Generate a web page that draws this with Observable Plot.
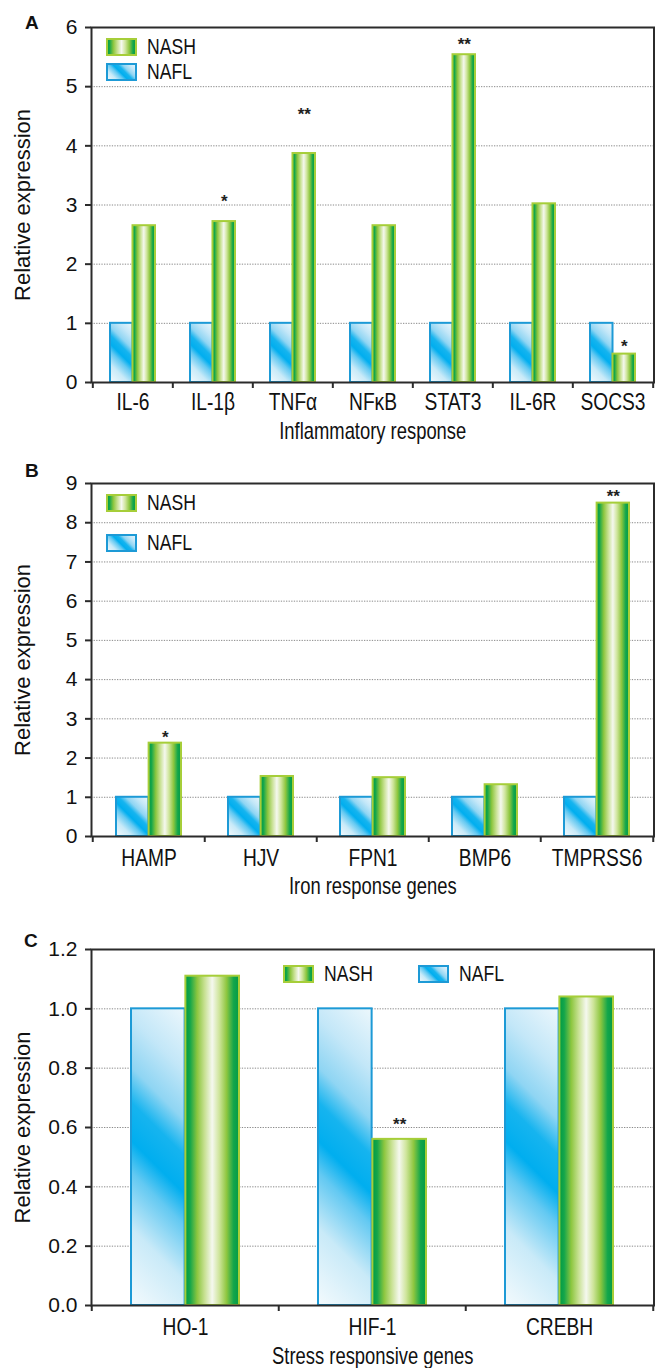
<!DOCTYPE html>
<html><head><meta charset="utf-8">
<script src="https://cdn.jsdelivr.net/npm/d3@7"></script>
<script src="https://cdn.jsdelivr.net/npm/@observablehq/plot@0.6"></script>
<style>
body{margin:0;background:#fff;}
#wrap{position:relative;width:656px;height:1368px;overflow:hidden;}
.panel{position:absolute;left:0;}
.letter{position:absolute;font-weight:bold;font-size:19px;font-family:"Liberation Sans",Arial,sans-serif;color:#111;line-height:1;}
.leg{position:absolute;display:flex;align-items:center;font-family:"Liberation Sans",Arial,sans-serif;font-size:22px;color:#111;line-height:1;}
.leg svg{margin-right:10px;display:block;}
.leg span{display:inline-block;transform:scaleX(0.8);transform-origin:0 50%;}
</style>
</head><body>
<svg width="0" height="0" style="position:absolute">
<defs>
<linearGradient id="nashGrad" x1="0" y1="0" x2="1" y2="0">
<stop offset="0" stop-color="#009a44"/>
<stop offset="0.09" stop-color="#15a64a"/>
<stop offset="0.22" stop-color="#8cc63f"/>
<stop offset="0.36" stop-color="#c8e193"/>
<stop offset="0.5" stop-color="#f5f8ef"/>
<stop offset="0.63" stop-color="#cfe59c"/>
<stop offset="0.77" stop-color="#8dc63f"/>
<stop offset="0.9" stop-color="#12a64b"/>
<stop offset="1" stop-color="#059a45"/>
</linearGradient>
</defs>
</svg>
<div id="wrap"></div>
<script>
// ---- data ----
const seriesNames = ["NASH", "NAFL"];

const inflGenes = ["IL-6", "IL-1β", "TNFα", "NFκB", "STAT3", "IL-6R", "SOCS3"];
const inflNAFL = [1, 1, 1, 1, 1, 1, 1];
const inflNASH = [2.65, 2.72, 3.87, 2.65, 5.54, 3.02, 0.48];
const inflStars = ["", "*", "**", "", "**", "", "*"];
const inflStarY = [null, 3.13, 4.59, null, 5.78, null, 0.68];
const inflTicks = [0, 1, 2, 3, 4, 5, 6];

const ironGenes = ["HAMP", "HJV", "FPN1", "BMP6", "TMPRSS6"];
const ironNAFL = [1, 1, 1, 1, 1];
const ironNASH = [2.38, 1.53, 1.5, 1.32, 8.5];
const ironStars = ["*", "", "", "", "**"];
const ironStarY = [2.63, null, null, null, 8.76];
const ironTicks = [0, 1, 2, 3, 4, 5, 6, 7, 8, 9];

const stressGenes = ["HO-1", "HIF-1", "CREBH"];
const stressNAFL = [1, 1, 1];
const stressNASH = [1.11, 0.56, 1.04];
const stressStars = ["", "**", ""];
const stressStarY = [null, 0.623, null];
const stressTicks = [0, 0.2, 0.4, 0.6, 0.8, 1.0, 1.2];

// ---- helpers ----
const NS = "http://www.w3.org/2000/svg";
let gradCount = 0;
const naflStops = [
  [0, "#f3fafd"], [0.22, "#c9eaf8"], [0.38, "#63c9f2"], [0.47, "#00aeef"],
  [0.58, "#16b4ef"], [0.68, "#8fd5f3"], [0.82, "#c3e7f8"], [1, "#ecf7fc"]
];
function naflGradient(defs, x, y, w, h) {
  const id = "naflGrad" + (gradCount++);
  const g = document.createElementNS(NS, "linearGradient");
  g.setAttribute("id", id);
  g.setAttribute("gradientUnits", "userSpaceOnUse");
  const s = (w + h) / 2;
  g.setAttribute("x1", x); g.setAttribute("y1", y + h);
  g.setAttribute("x2", x + s); g.setAttribute("y2", y + h - s);
  for (const [o, c] of naflStops) {
    const st = document.createElementNS(NS, "stop");
    st.setAttribute("offset", o); st.setAttribute("stop-color", c);
    g.appendChild(st);
  }
  defs.appendChild(g);
  return `url(#${id})`;
}
function postProcess(svg) {
  let defs = svg.querySelector("defs");
  if (!defs) { defs = document.createElementNS(NS, "defs"); svg.insertBefore(defs, svg.firstChild); }
  // diagonal gradient for the NAFL bars (one per bar, in its own coordinates)
  svg.querySelectorAll('g[fill="#00aeef"] rect').forEach(r => {
    const x = +r.getAttribute("x"), y = +r.getAttribute("y");
    const w = +r.getAttribute("width"), h = +r.getAttribute("height");
    r.setAttribute("fill", naflGradient(defs, x, y, w, h));
  });
  // condensed look for the x-axis texts (scaled about each text's own centre)
  svg.querySelectorAll('g[font-family*="Condensed"] text').forEach(t => {
    const b = t.getBBox();
    const cx = b.x + b.width / 2;
    const tr = t.getAttribute("transform") || "";
    t.setAttribute("transform", `${tr} translate(${cx},0) scale(0.8,1) translate(${-cx},0)`);
  });
}

const wrap = document.getElementById("wrap");
const W = 656, ML = 91, MR = 2.5;
const condensed = '"Liberation Sans","Condensed",Arial,sans-serif';
const regular = '"Liberation Sans",Arial,sans-serif';

function panel(cfg) {
  const {genes, nafl, nash, stars, starY, ticks, yMax, fmt, top, height, mt, mb, xLabel, pad, xLabelOffset, tickPad} = cfg;
  const step = (W - ML - MR) / genes.length;
  const bw = step * (1 - pad);
  const rows = genes.map((g, i) => ({gene: g, nafl: nafl[i], nash: nash[i], star: stars[i], starY: starY[i]}));
  const svg = Plot.plot({
    width: W, height, marginLeft: ML, marginRight: MR, marginTop: mt, marginBottom: mb,
    style: {fontFamily: regular, fontSize: "22px", color: "#111", background: "transparent", overflow: "visible"},
    x: {type: "band", domain: genes, paddingInner: pad, paddingOuter: pad / 2},
    y: {domain: [0, yMax]},
    marks: [
      Plot.gridY(ticks, {stroke: "#8a8a8a", strokeOpacity: 1, strokeDasharray: "1.3,1.3", strokeWidth: 1}),
      Plot.barY(rows, {x: "gene", y: "nafl", insetRight: bw / 2, fill: "#00aeef", stroke: "#1d9ad6", strokeWidth: 2}),
      Plot.barY(rows, {x: "gene", y: "nash", insetLeft: bw / 2, fill: "url(#nashGrad)", stroke: "#a6ce39", strokeWidth: 2}),
      Plot.text(rows.filter(d => d.star), {x: "gene", y: "starY", text: "star", dx: bw / 4, dy: 4, fontSize: 17, fontWeight: "bold", fontFamily: regular, fill: "#222"}),
      Plot.axisY(ticks, {tickSize: 6, tickPadding: 8, tickFormat: fmt, label: null, fontSize: 21, fontFamily: regular, stroke: "#2b2b2b", strokeWidth: 2}),
      Plot.axisY([], {tickSize: 0, label: "Relative expression", labelAnchor: "center", labelOffset: 77, labelArrow: "none", fontSize: 22, fontFamily: regular}),
      Plot.axisX({tickSize: 0, tickPadding: tickPad, label: null, fontSize: 24, fontFamily: condensed}),
      Plot.axisX([], {tickSize: 0, label: xLabel, labelAnchor: "center", labelOffset: xLabelOffset, fontSize: 23, fontFamily: condensed}),
      Plot.axisX({tickSize: 6, tickFormat: () => "", dx: -step / 2, label: null, stroke: "#2b2b2b", strokeWidth: 2}),
      Plot.axisX([genes[genes.length - 1]], {tickSize: 6, tickFormat: () => "", dx: step / 2, label: null, stroke: "#2b2b2b", strokeWidth: 2}),
      Plot.frame({stroke: "#2b2b2b", strokeWidth: 2})
    ]
  });
  const holder = document.createElement("div");
  holder.className = "panel";
  holder.style.top = top + "px";
  holder.appendChild(svg);
  wrap.appendChild(holder);
  postProcess(svg);
}

function letter(t, x, y) {
  const d = document.createElement("div");
  d.className = "letter"; d.textContent = t;
  d.style.left = x + "px"; d.style.top = y + "px";
  wrap.appendChild(d);
}
function legendItem(name, x, y) {
  const d = document.createElement("div");
  d.className = "leg";
  d.style.left = x + "px"; d.style.top = y + "px";
  const s = document.createElementNS(NS, "svg");
  s.setAttribute("width", 31); s.setAttribute("height", 18);
  const defs = document.createElementNS(NS, "defs"); s.appendChild(defs);
  const r = document.createElementNS(NS, "rect");
  r.setAttribute("x", 1); r.setAttribute("y", 1); r.setAttribute("width", 29); r.setAttribute("height", 16);
  r.setAttribute("stroke-width", 2);
  if (name === "NASH") { r.setAttribute("fill", "url(#nashGrad)"); r.setAttribute("stroke", "#a6ce39"); }
  else { r.setAttribute("fill", naflGradient(defs, 1, 1, 29, 16)); r.setAttribute("stroke", "#1d9ad6"); }
  s.appendChild(r);
  d.appendChild(s);
  const t = document.createElement("span"); t.textContent = name;
  d.appendChild(t);
  wrap.appendChild(d);
}

panel({genes: inflGenes, nafl: inflNAFL, nash: inflNASH, stars: inflStars, starY: inflStarY, ticks: inflTicks,
  yMax: 6, fmt: d3.format("d"), top: 0, height: 440, mt: 27, mb: 58, xLabel: "Inflammatory response", pad: 0.44, xLabelOffset: 56, tickPad: 10});
panel({genes: ironGenes, nafl: ironNAFL, nash: ironNASH, stars: ironStars, starY: ironStarY, ticks: ironTicks,
  yMax: 9, fmt: d3.format("d"), top: 440, height: 460, mt: 43, mb: 64, xLabel: "Iron response genes", pad: 0.42, xLabelOffset: 57, tickPad: 12});
panel({genes: stressGenes, nafl: stressNAFL, nash: stressNASH, stars: stressStars, starY: stressStarY, ticks: stressTicks,
  yMax: 1.2, fmt: d3.format(".1f"), top: 900, height: 468, mt: 49, mb: 63, xLabel: "Stress responsive genes", pad: 0.42, xLabelOffset: 58, tickPad: 12});

letter("A", 25, 13);
letter("B", 25, 461);
letter("C", 24, 931);

legendItem(seriesNames[0], 106, 36);
legendItem(seriesNames[1], 106, 61);
legendItem(seriesNames[0], 106, 492);
legendItem(seriesNames[1], 106, 532);
legendItem(seriesNames[0], 283, 963);
legendItem(seriesNames[1], 418, 963);
</script>
</body></html>
